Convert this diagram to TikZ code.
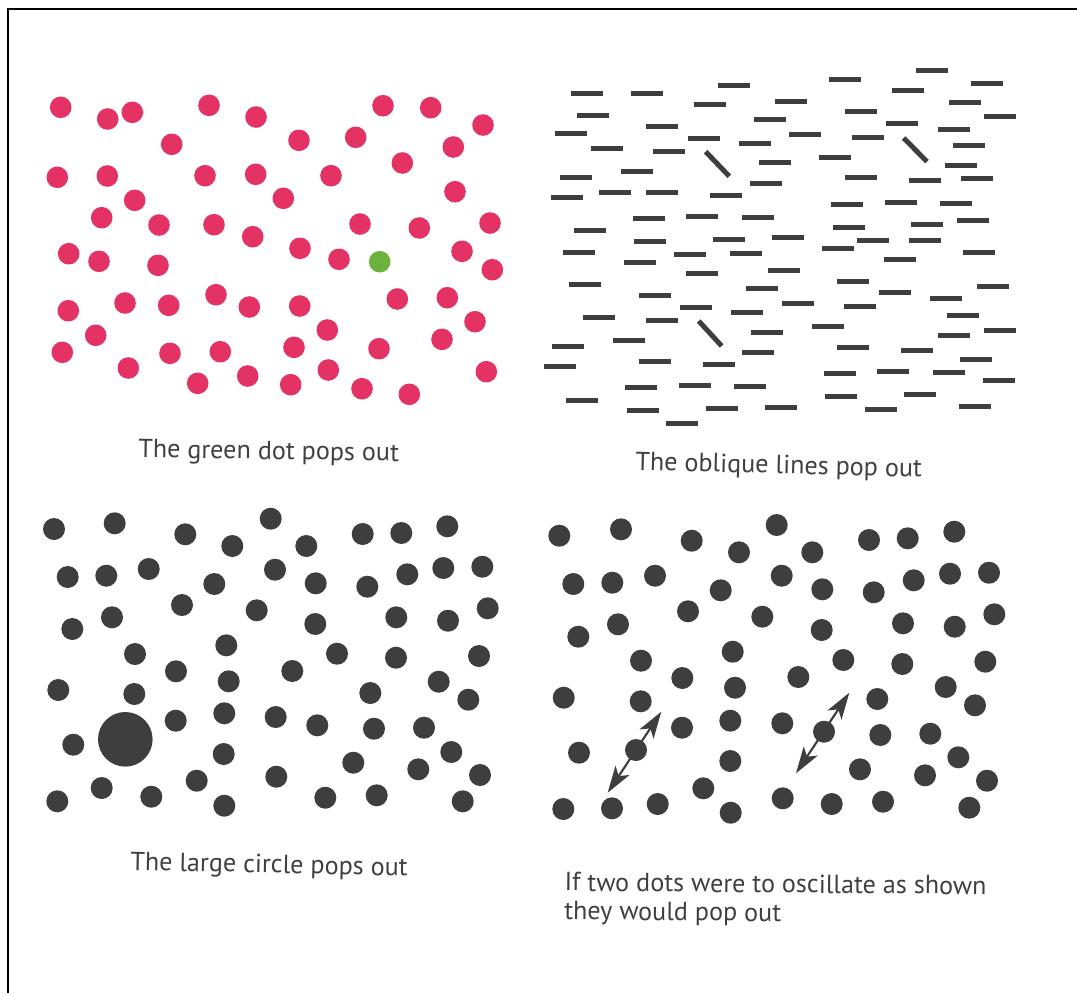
\documentclass[tikz,border=0pt]{standalone}
\usepackage{fontspec}
\setmainfont{PT Sans}
\usetikzlibrary{arrows.meta}
\definecolor{pinkdot}{RGB}{228,50,100}
\definecolor{greendot}{RGB}{110,178,62}
\definecolor{darkdot}{RGB}{62,62,62}
\definecolor{captiongray}{RGB}{64,64,64}
\tikzset{
  pdot/.style={fill=pinkdot},
  gdot/.style={fill=greendot},
  ddot/.style={fill=darkdot},
  hbar/.style={draw=darkdot,line width=3.75pt},
  obar/.style={draw=darkdot,line width=3.75pt},
  caption/.style={anchor=base west,inner sep=0pt,text=captiongray,font=\fontsize{19.6}{21.5}\selectfont,align=left},
  osc/.style={draw=darkdot,line width=1.6pt,{Stealth[length=20pt,width=12.5pt,inset=5pt]}-{Stealth[length=20pt,width=12.5pt,inset=5pt]}},
  frame/.style={draw=black,line width=2.2pt}
}
\begin{document}
\begin{tikzpicture}[x=0.75pt,y=-0.75pt]
\useasboundingbox[fill=white] (0,0) rectangle (1077,993);
% frame (top and left edges)
\draw[frame] (1077,9) -- (8,9) -- (8,993);
% ---------- top left: pink dots ----------
\foreach \p in {(60.7,107.3),(107.7,119),(132.3,112.3),(209,105.3),(256,117),(171.7,144.3),(57.3,177.3),(107.3,176),(205,175.7),(255.7,174.3),(134.7,200.3),(101.7,217.7),(159,225),(214,224.7),(252.7,236.7),(68.7,253.7),(99,261.3),(158,265.3),(68.3,310.7),(125,303),(168.7,305.3),(216,294.7),(249.3,307),(95.7,335.3),(62.3,352.3),(170,353.3),(220.3,351.7),(128.3,368),(197.7,383.3),(247.7,376),(383,105.7),(430.7,107.7),(483,125),(299,140.3),(355.7,137.3),(453.3,147),(402.3,163),(331,175.7),(283.3,198.3),(455,191.7),(360,224),(419.3,228),(490,223),(300,248.3),(339,259.3),(462,251.3),(492.3,269.7),(299.7,306),(397.3,299),(447.3,297.7),(327.3,330),(475,321.7),(294,347.3),(379,348.7),(442,339.3),(328.3,370),(290.7,384.7),(362,388.7),(409.3,394.3),(486.3,371.7)}
  \fill[pdot] \p circle (10.8);
\fill[gdot] (379.7,261.7) circle (10.8);
\node[caption,rotate=-0.8] (capA) at (138,457.5) {The green dot pops out};
% ---------- top right: bars ----------
\foreach \x/\y in {586.7/93,647.3/93.7,734/85,709.7/104.3,791.3/101,593/115.3,662.3/126,769.5/119.7,571/133.7,704/138,755/143.3,607/148.3,669.3/151.3,774.5/162.7,637/171.7,576/177,766/183,567/197,615.3/192.3,662.3/192,726.3/195.3,649/218,702.3/216.3,757.7/217.3,589.7/230.7,650.3/241.3,729/239,788.3/237.7,579/252.3,689.7/254.3,746.3/253.3,640/262.7,702.3/273.7,784/270,585/284.3,762.3/288.7,654.7/295.3,696.3/307,599.3/317.7,662/320.7,747.3/312.7,767/332.3,629.3/340.7,568.3/346.3,758.3/352.3,559.7/366.3,654.7/361.3,719/364.7,641/387.7,695/385.7,749.7/386.7,582/400.3,642.7/410.7,721.7/408.7,781/407,682.3/423.7,932/70.7,845.3/79.3,986.7/83.3,908/90,965/102,860.7/111.7,1000.3/116.3,902.3/123.3,953.7/129,805/134,867.7/137,969.3/145.3,835/157.3,960.7/165.3,860.7/177.7,924.7/180.7,977.3/178.3,847.3/204,900.7/202,956/203,848.7/227,927/224.7,973/220.7,873/240,924.7/240,838/248.7,979.3/252.7,900.3/259.3,853.3/281,993/286,895/292.7,946.3/298.3,797.7/303.3,860.3/306.3,962.7/315,827.7/326.7,953.7/335,1000.3/330,853.3/347,917.3/350.3,976/359.3,839.7/373.3,893.3/371.7,949/372.7,998.7/380.7,841.3/396.7,919.7/394,974.7/406,880.7/409.7}
  \draw[hbar] (\x-16,\y) -- (\x+16,\y);
\draw[obar] (705.7,151.7) -- (729.3,176.3);
\draw[obar] (698.7,321) -- (721.7,346);
\draw[obar] (903.7,138) -- (927,161.7);
\node[caption,rotate=-1.4] (capB) at (635,470) {The oblique lines pop out};
% ---------- bottom left: dark dots with large circle ----------
\foreach \p in {(54,529),(114.7,523.3),(185.3,534.3),(232.3,546),(67.7,577),(106.3,575.7),(148.7,569),(214.3,584),(182,605),(256.7,610.3),(72.3,629),(112,617.3),(226.3,645.3),(135,654),(176,671.3),(228.7,681.3),(58.3,690),(134.3,694),(175.7,720.7),(224.3,713.3),(73.3,744.7),(223.7,754),(196.7,780.7),(101.7,788),(151.3,796.7),(57.3,801.3),(224.3,805.7),(270.7,518.7),(362.7,534),(401.3,533),(447.3,526.3),(306.3,546),(275,569.7),(315.7,583.3),(367.3,586.7),(407.3,574.3),(443.3,568),(482.3,566.7),(315.3,624),(396.3,617.3),(448,620.7),(487.7,608.3),(337,653.7),(396,657.7),(479,656),(292.3,671),(438.7,681.7),(370.3,693),(468.3,699.7),(275.7,717),(317.3,725.3),(374,728.7),(424,727.7),(451.3,752),(353.3,762.7),(418.3,769.3),(480,775),(276.3,776.7),(325.3,797.7),(376.7,795.3),(462.7,801.3)}
  \fill[ddot] \p circle (11);
\fill[ddot] (125.3,739.3) circle (27.3);
\node[caption,rotate=-1.2] (capC) at (130,870) {The large circle pops out};
% ---------- bottom right: dark dots with oscillation arrows ----------
\foreach \p in {(559.3,535.7),(621,529.3),(691.7,540.7),(739,552.3),(573.3,584),(612.3,582.7),(655,575.7),(720.7,590.3),(688,611.3),(762.3,616.7),(578.3,636.7),(618,624.3),(732.7,651.7),(641,660.7),(682.3,678),(735,687.7),(563.7,697.7),(640.7,701.3),(682,727.7),(730.3,720.7),(579,752.7),(636,750),(730.3,761),(703.3,788.3),(563.3,809),(612,808.3),(657.7,804),(730.7,812.7),(776.7,525),(869,540),(907.7,538.3),(954.3,531.7),(812.3,552.3),(781.7,575.7),(822.3,589.3),(873.7,592.3),(913.7,580.3),(950,573.7),(989,572.7),(821.7,630),(903,623.3),(954.7,626.7),(994.3,614.3),(843.3,660),(902.3,664),(985.3,661.7),(798.3,677),(945.7,687),(877.3,699),(975,705.3),(782.3,723.3),(824,731.7),(880.3,735),(930.3,733.7),(958.3,757.3),(860,769.3),(925,775.3),(987,780.7),(782.7,798.3),(831.7,804),(883,801.7),(969.3,807.7)}
  \fill[ddot] \p circle (11);
\coordinate (a1s) at (607.7,792.7);
\coordinate (a1e) at (661.3,711.7);
\coordinate (a2s) at (796,773.3);
\coordinate (a2e) at (849.3,692.7);
\draw[osc] (a1s) -- (a1e);
\draw[osc] (a2s) -- (a2e);
\node[caption,rotate=-0.5] (capD) at (564,919.5) {If two dots were to oscillate as shown\\they would pop out};
\end{tikzpicture}
\end{document}
